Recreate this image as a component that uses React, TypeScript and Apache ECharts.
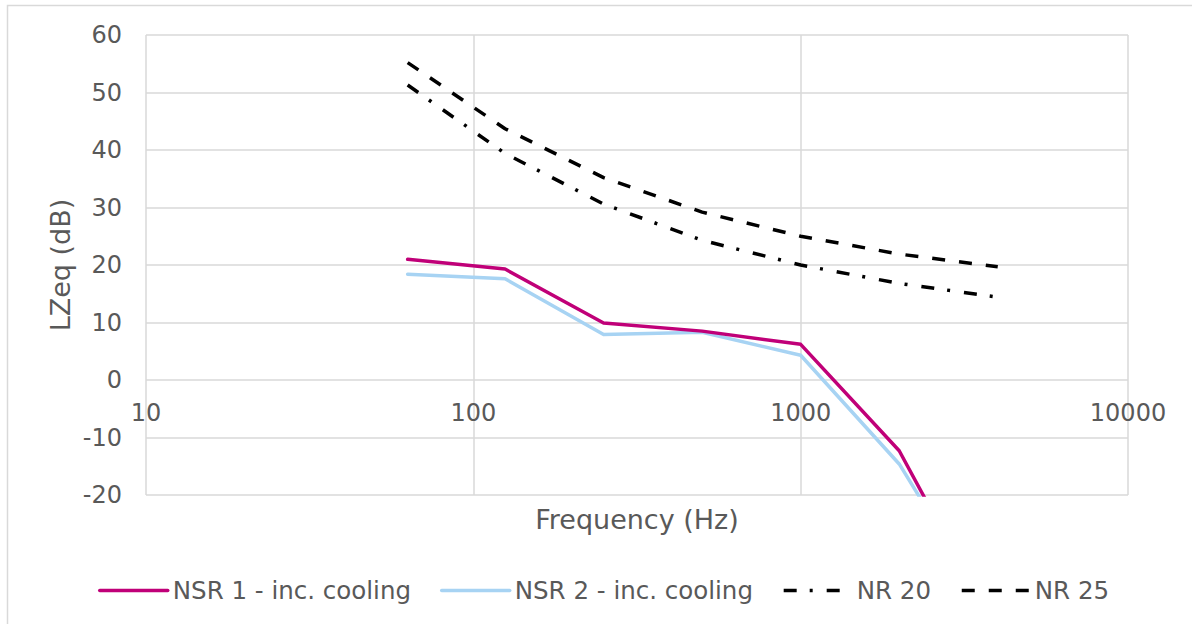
import React, { useEffect, useRef } from "react";
import * as echarts from "echarts";

const frequencies = [63, 125, 250, 500, 1000, 2000, 4000];
const nsr1 = [21.0, 19.3, 9.9, 8.5, 6.2, -12.3, -44];
const nsr2 = [18.4, 17.6, 7.9, 8.3, 4.3, -14.6, -42.5];
const nr20 = [51.3, 39.4, 30.6, 24.3, 20.0, 16.8, 14.4];
const nr25 = [55.2, 43.7, 35.2, 29.2, 25.0, 21.9, 19.7];
const seriesNames = ["NSR 1 - inc. cooling", "NSR 2 - inc. cooling", "NR 20", "NR 25"];
const xTitle = "Frequency (Hz)";
const yTitle = "LZeq (dB)";

const pair = (vals: number[]) => frequencies.map((f, i) => [f, vals[i]]);

export default function App() {
  const ref = useRef<HTMLDivElement>(null);
  useEffect(() => {
    if (!ref.current) return;
    const chart = echarts.init(ref.current, null, { renderer: "svg" });
    const font = "DejaVu Sans";
    const grey = "#595959";
    const gridColor = "#d9d9d9";
    chart.setOption({
      animation: false,
      textStyle: { fontFamily: font },
      grid: { left: 146, right: 64, top: 35, bottom: 129, containLabel: false, outerBoundsMode: "none" },
      xAxis: {
        type: "log",
        logBase: 10,
        min: 10,
        max: 10000,
        offset: -115,
        axisLine: { show: false, onZero: false },
        axisTick: { show: false },
        axisLabel: { color: grey, fontSize: 24, fontFamily: font, margin: 21, formatter: (v: number) => String(Math.round(v)) },
        splitLine: { show: true, lineStyle: { color: gridColor, width: 1.5 } },
        minorTick: { show: false },
      },
      yAxis: {
        type: "value",
        min: -20,
        max: 60,
        interval: 10,
        axisLine: { show: false },
        axisTick: { show: false },
        axisLabel: { color: grey, fontSize: 24, fontFamily: font, margin: 24 },
        splitLine: { show: true, lineStyle: { color: gridColor, width: 1.5 } },
      },
      legend: {
        left: 93,
        top: 573,
        itemWidth: 68,
        itemHeight: 14,
        itemGap: 29,
        itemStyle: { opacity: 0 },
        lineStyle: { width: 3.5 },
        textStyle: { color: grey, fontSize: 24.5, fontFamily: font },
        data: seriesNames,
      },
      graphic: [
        {
          type: "polyline",
          shape: { points: [[7.5, 624], [7.5, 5.5], [1192, 5.5]] },
          style: { stroke: gridColor, lineWidth: 1.5, fill: "none" },
          silent: true,
        },
        {
          type: "text",
          x: 637,
          y: 519,
          style: { text: xTitle, fill: grey, fontSize: 27, fontFamily: font, textAlign: "center", textVerticalAlign: "middle" },
        },
        {
          type: "text",
          x: 60,
          y: 265,
          rotation: Math.PI / 2,
          style: { text: yTitle, fill: grey, fontSize: 27, fontFamily: font, textAlign: "center", textVerticalAlign: "middle" },
        },
      ],
      series: [
        {
          name: seriesNames[0],
          type: "line",
          data: pair(nsr1),
          symbol: "none",
          clip: true,
          lineStyle: { color: "#C00078", width: 3.5, cap: "round", join: "round" },
          itemStyle: { color: "#C00078" },
          z: 4,
        },
        {
          name: seriesNames[1],
          type: "line",
          data: pair(nsr2),
          symbol: "none",
          clip: true,
          lineStyle: { color: "#A7D3F3", width: 3.5, cap: "round", join: "round" },
          itemStyle: { color: "#A7D3F3" },
          z: 3,
        },
        {
          name: seriesNames[2],
          type: "line",
          data: pair(nr20),
          symbol: "none",
          clip: true,
          lineStyle: { color: "#000000", width: 3.5, type: [13, 13, 3, 14], cap: "butt" },
          itemStyle: { color: "#000000" },
        },
        {
          name: seriesNames[3],
          type: "line",
          data: pair(nr25),
          symbol: "none",
          clip: true,
          lineStyle: { color: "#000000", width: 3.5, type: [13, 14], cap: "butt" },
          itemStyle: { color: "#000000" },
        },
      ],
    });
    return () => chart.dispose();
  }, []);
  return <div ref={ref} style={{ position: "fixed", left: 0, top: 0, width: 1192, height: 624, background: "#fff" }} />;
}
